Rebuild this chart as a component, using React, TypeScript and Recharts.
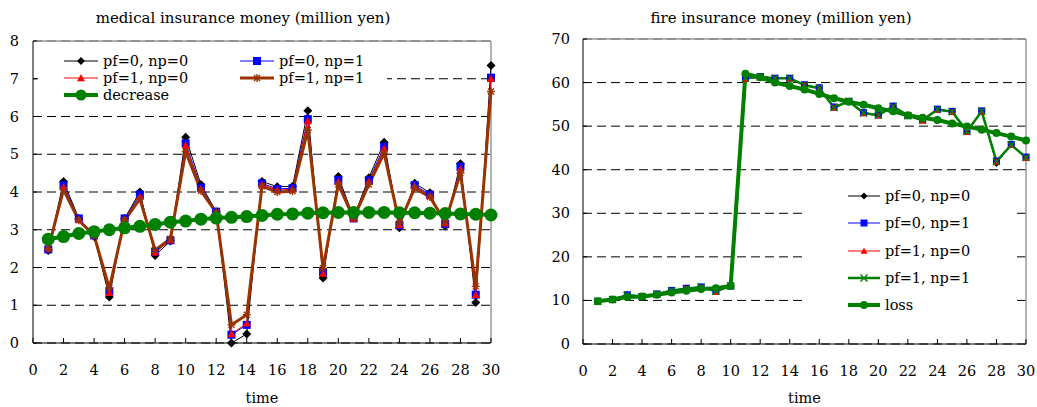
import React from 'react';
import { LineChart, Line, XAxis, YAxis, CartesianGrid, ReferenceLine } from 'recharts';

// ---------- data ----------
const time = [1,2,3,4,5,6,7,8,9,10,11,12,13,14,15,16,17,18,19,20,21,22,23,24,25,26,27,28,29,30];
const xTicks = [0,2,4,6,8,10,12,14,16,18,20,22,24,26,28,30];
const leftYTicks = [0,1,2,3,4,5,6,7,8];
const rightYTicks = [0,10,20,30,40,50,60,70];

const leftTitle = 'medical insurance money (million yen)';
const rightTitle = 'fire insurance money (million yen)';
const xLabel = 'time';

// medical insurance money
const medP0N0 = [2.45,4.28,3.3,2.82,1.22,3.3,4.0,2.32,2.7,5.45,4.2,3.48,0.0,0.24,4.28,4.14,4.15,6.15,1.72,4.41,3.33,4.38,5.32,3.05,4.23,3.98,3.1,4.75,1.07,7.35];
const medP0N1 = [2.48,4.18,3.3,2.85,1.37,3.3,3.93,2.42,2.72,5.29,4.12,3.48,0.22,0.48,4.23,4.08,4.1,5.93,1.87,4.32,3.3,4.31,5.2,3.12,4.18,3.93,3.15,4.67,1.28,7.03];
const medP1N0 = [2.5,4.13,3.28,2.85,1.33,3.28,3.87,2.4,2.72,5.24,4.08,3.47,0.24,0.52,4.2,4.05,4.07,5.88,1.84,4.27,3.3,4.27,5.15,3.13,4.15,3.9,3.17,4.6,1.28,7.0];
const medP1N1 = [2.5,4.06,3.25,2.85,1.45,3.25,3.82,2.46,2.76,5.07,4.03,3.45,0.48,0.75,4.15,4.0,4.02,5.64,1.98,4.2,3.3,4.2,5.03,3.17,4.1,3.87,3.2,4.5,1.5,6.66];
const medDecrease = [2.75,2.82,2.9,2.95,3.0,3.05,3.09,3.14,3.2,3.23,3.28,3.31,3.33,3.35,3.38,3.41,3.42,3.44,3.45,3.46,3.46,3.46,3.46,3.45,3.45,3.44,3.43,3.42,3.41,3.39];

// fire insurance money
const fireP0N0 = [9.8,10.2,11.3,10.9,11.5,12.3,12.8,13.1,12.2,13.3,61.2,61.4,61.0,61.0,59.5,58.8,54.4,55.7,53.1,52.6,54.6,52.4,51.5,53.9,53.4,48.7,53.5,41.4,45.8,42.8];
const fireP0N1 = [9.8,10.2,11.3,10.9,11.5,12.3,12.8,13.1,12.2,13.3,61.2,61.4,61.0,61.0,59.5,58.8,54.4,55.7,53.1,52.6,54.6,52.4,51.5,53.9,53.4,48.8,53.5,42.0,45.8,42.9];
const fireP1N0 = [9.7,10.1,11.2,10.8,11.4,12.2,12.7,13.0,11.9,13.3,60.8,61.3,60.9,60.9,59.4,58.7,54.2,55.6,52.9,52.4,54.4,52.3,51.2,53.7,53.2,48.6,53.3,41.8,45.6,42.7];
const fireP1N1 = [9.8,10.2,11.2,10.9,11.4,12.3,12.7,13.1,12.1,13.3,61.0,61.3,61.0,61.0,59.4,58.7,54.3,55.7,53.0,52.5,54.5,52.4,51.4,53.8,53.3,48.8,53.4,41.9,45.7,42.8];
const fireLoss = [9.8,10.2,10.8,10.9,11.3,11.8,12.2,12.6,12.8,13.3,62.0,61.2,60.0,59.2,58.4,57.4,56.4,55.6,54.9,54.1,53.4,52.5,51.9,51.4,50.6,49.9,49.2,48.4,47.6,46.7];

const leftData = time.map((t, i) => ({ t, a: medP0N0[i], b: medP0N1[i], c: medP1N0[i], d: medP1N1[i], e: medDecrease[i] }));
const rightData = time.map((t, i) => ({ t, a: fireP0N0[i], b: fireP0N1[i], c: fireP1N0[i], d: fireP1N1[i], e: fireLoss[i] }));

// ---------- styles ----------
const FONT = '"DejaVu Serif", serif';
const FS = 14.5;
const GREEN = '#008000';
const BROWN = '#993300';

type Kind = 'diamond' | 'square' | 'triangle' | 'star' | 'x' | 'circle';
interface SeriesStyle { key: string; name: string; color: string; width: number; kind: Kind; size: number; }

const leftSeries: SeriesStyle[] = [
  { key: 'a', name: 'pf=0, np=0', color: '#000000', width: 1, kind: 'diamond', size: 9 },
  { key: 'b', name: 'pf=0, np=1', color: '#0000FF', width: 1, kind: 'square', size: 8 },
  { key: 'c', name: 'pf=1, np=0', color: '#FF0000', width: 1, kind: 'triangle', size: 8 },
  { key: 'd', name: 'pf=1, np=1', color: BROWN, width: 3, kind: 'star', size: 8 },
  { key: 'e', name: 'decrease', color: GREEN, width: 4, kind: 'circle', size: 13 },
];
const rightSeries: SeriesStyle[] = [
  { key: 'a', name: 'pf=0, np=0', color: '#000000', width: 1, kind: 'diamond', size: 7 },
  { key: 'b', name: 'pf=0, np=1', color: '#0000FF', width: 1, kind: 'square', size: 7 },
  { key: 'c', name: 'pf=1, np=0', color: '#FF0000', width: 1, kind: 'triangle', size: 7 },
  { key: 'd', name: 'pf=1, np=1', color: GREEN, width: 2.5, kind: 'x', size: 7 },
  { key: 'e', name: 'loss', color: GREEN, width: 4, kind: 'circle', size: 8 },
];

function Marker({ kind, cx, cy, color, size }: { kind: Kind; cx: number; cy: number; color: string; size: number }) {
  const s = size / 2;
  if (cx == null || cy == null || isNaN(cx) || isNaN(cy)) return <g />;
  switch (kind) {
    case 'diamond':
      return <polygon points={`${cx},${cy - s} ${cx + s},${cy} ${cx},${cy + s} ${cx - s},${cy}`} fill={color} />;
    case 'square':
      return <rect x={cx - s} y={cy - s} width={size} height={size} fill={color} />;
    case 'triangle':
      return <polygon points={`${cx},${cy - s} ${cx + s},${cy + s * 0.8} ${cx - s},${cy + s * 0.8}`} fill={color} />;
    case 'star':
      return (
        <g stroke={color} strokeWidth={1.4}>
          <line x1={cx - s} y1={cy} x2={cx + s} y2={cy} />
          <line x1={cx} y1={cy - s} x2={cx} y2={cy + s} />
          <line x1={cx - s * 0.75} y1={cy - s * 0.75} x2={cx + s * 0.75} y2={cy + s * 0.75} />
          <line x1={cx - s * 0.75} y1={cy + s * 0.75} x2={cx + s * 0.75} y2={cy - s * 0.75} />
        </g>
      );
    case 'x':
      return (
        <g stroke={color} strokeWidth={1.5}>
          <line x1={cx - s} y1={cy - s} x2={cx + s} y2={cy + s} />
          <line x1={cx - s} y1={cy + s} x2={cx + s} y2={cy - s} />
        </g>
      );
    case 'circle':
    default:
      return <circle cx={cx} cy={cy} r={s} fill={color} />;
  }
}

const makeDot = (st: SeriesStyle) => (p: any) => (
  <g key={`${st.key}-${p.index}`}>
    <Marker kind={st.kind} cx={p.cx} cy={p.cy} color={st.color} size={st.size} />
  </g>
);

const XTick = (props: any) => {
  const { x, y, payload } = props;
  return (
    <g>
      <line x1={x} y1={y} x2={x} y2={y - 5} stroke="#000" />
      <text x={x} y={y + 32} textAnchor="middle" fontFamily={FONT} fontSize={FS} fill="#000">{payload.value}</text>
    </g>
  );
};

const makeYTick = (gap: number) => (props: any) => {
  const { x, y, payload } = props;
  return (
    <g>
      <line x1={x} y1={y} x2={x + 4} y2={y} stroke="#000" />
      <text x={x - gap} y={y + 5} textAnchor="end" fontFamily={FONT} fontSize={FS} fill="#000">{payload.value}</text>
    </g>
  );
};

function LegendItem({ st, x, y, lineW }: { st: SeriesStyle; x: number; y: number; lineW: number }) {
  const ms = Math.min(st.size, st.kind === 'circle' ? 11 : 8);
  return (
    <div style={{ position: 'absolute', left: x, top: y - 10, height: 20, display: 'flex', alignItems: 'center', whiteSpace: 'nowrap' }}>
      <svg width={lineW} height={20} style={{ display: 'block' }}>
        <line x1={0} y1={10} x2={lineW} y2={10} stroke={st.color} strokeWidth={st.width} />
        <Marker kind={st.kind} cx={lineW / 2} cy={10} color={st.color} size={ms} />
      </svg>
      <span style={{ marginLeft: 5, fontFamily: FONT, fontSize: FS, color: '#000', lineHeight: '20px' }}>{st.name}</span>
    </div>
  );
}

function Title({ text, cx }: { text: string; cx: number }) {
  return (
    <div style={{ position: 'absolute', left: cx - 250, width: 500, top: 8, textAlign: 'center', fontFamily: FONT, fontSize: 15, lineHeight: '20px', color: '#000', whiteSpace: 'nowrap' }}>{text}</div>
  );
}

export default function App() {
  return (
    <div style={{ position: 'absolute', left: 0, top: 0, width: 1037, height: 407, background: '#fff', overflow: 'hidden' }}>
      <Title text={leftTitle} cx={243} />
      <Title text={rightTitle} cx={781} />

      {/* Left chart */}
      <div style={{ position: 'absolute', left: 0, top: 0 }}>
        <LineChart width={520} height={407} data={leftData} margin={{ top: 41, right: 29, bottom: 0, left: 0 }}>
          <CartesianGrid horizontal vertical={false} stroke="#000" strokeDasharray="9 5" />
          <XAxis dataKey="t" type="number" domain={[0, 30]} ticks={xTicks} interval={0} height={64}
            tickSize={0} tickMargin={0} axisLine={{ stroke: '#000' }} tick={XTick}
            label={{ value: xLabel, position: 'insideBottom', offset: 4, fontFamily: FONT, fontSize: FS, fill: '#000' }} />
          <YAxis type="number" domain={[0, 8]} ticks={leftYTicks} interval={0} width={33}
            tickSize={0} tickMargin={0} axisLine={{ stroke: '#000' }} tick={makeYTick(14)} />
          <ReferenceLine y={8} stroke="#999" strokeWidth={1.5} />
          <ReferenceLine x={30} stroke="#999" strokeWidth={1.5} />
          {leftSeries.map((st) => (
            <Line key={st.key} type="linear" dataKey={st.key} name={st.name} stroke={st.color} strokeWidth={st.width}
              dot={makeDot(st)} activeDot={false} isAnimationActive={false} legendType="none" />
          ))}
        </LineChart>
      </div>
      <div style={{ position: 'absolute', left: 38, top: 50, width: 349, height: 56, background: '#fff' }} />
      <LegendItem st={leftSeries[0]} x={64} y={61} lineW={34} />
      <LegendItem st={leftSeries[1]} x={240} y={61} lineW={34} />
      <LegendItem st={leftSeries[2]} x={64} y={78} lineW={34} />
      <LegendItem st={leftSeries[3]} x={240} y={78} lineW={34} />
      <LegendItem st={leftSeries[4]} x={64} y={95} lineW={34} />

      {/* Right chart */}
      <div style={{ position: 'absolute', left: 520, top: 0 }}>
        <LineChart width={517} height={407} data={rightData} margin={{ top: 39, right: 11, bottom: 0, left: 0 }}>
          <CartesianGrid horizontal vertical={false} stroke="#000" strokeDasharray="9 5" />
          <XAxis dataKey="t" type="number" domain={[0, 30]} ticks={xTicks} interval={0} height={63}
            tickSize={0} tickMargin={0} axisLine={{ stroke: '#000' }} tick={XTick}
            label={{ value: xLabel, position: 'insideBottom', offset: 4, fontFamily: FONT, fontSize: FS, fill: '#000' }} />
          <YAxis type="number" domain={[0, 70]} ticks={rightYTicks} interval={0} width={63}
            tickSize={0} tickMargin={0} axisLine={{ stroke: '#000' }} tick={makeYTick(13)} />
          <ReferenceLine y={70} stroke="#999" strokeWidth={1.5} />
          <ReferenceLine x={30} stroke="#999" strokeWidth={1.5} />
          {rightSeries.map((st) => (
            <Line key={st.key} type="linear" dataKey={st.key} name={st.name} stroke={st.color} strokeWidth={st.width}
              dot={makeDot(st)} activeDot={false} isAnimationActive={false} legendType="none" />
          ))}
        </LineChart>
      </div>
      <div style={{ position: 'absolute', left: 807, top: 178, width: 206, height: 140, background: '#fff' }} />
      {rightSeries.map((st, i) => (
        <LegendItem key={st.key} st={st} x={848} y={[195.7, 223.3, 250.7, 278.3, 305][i]} lineW={32} />
      ))}
    </div>
  );
}
